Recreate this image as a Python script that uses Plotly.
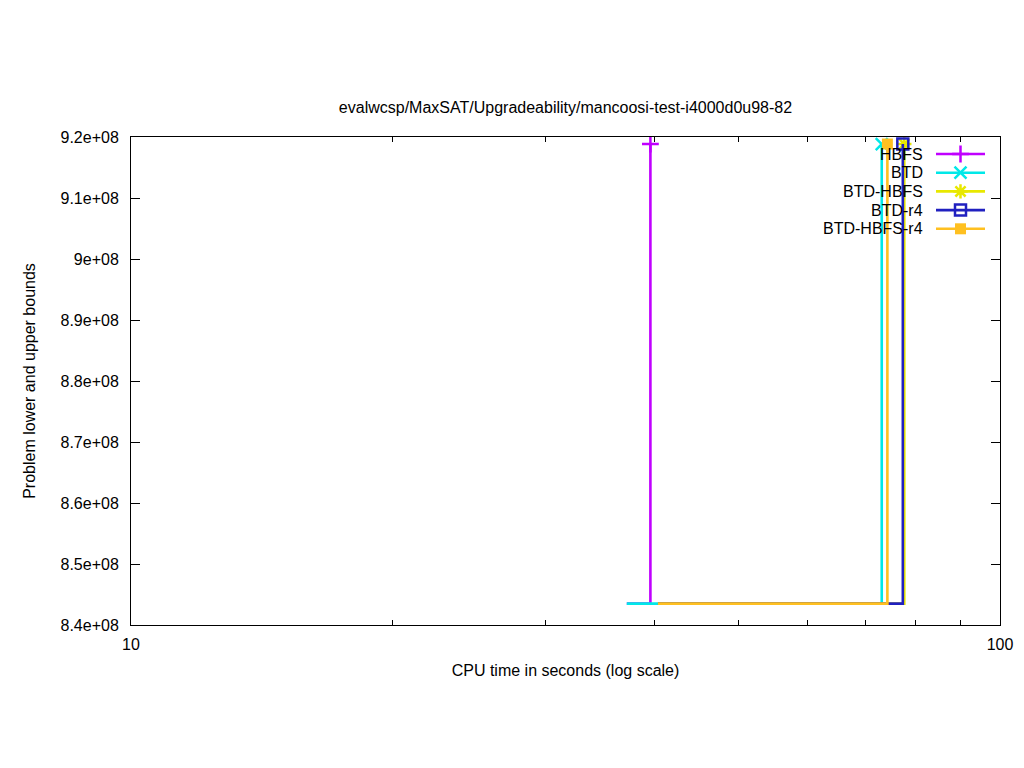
import plotly.graph_objects as go

# Data
series_names = ["HBFS", "BTD", "BTD-HBFS", "BTD-r4", "BTD-HBFS-r4"]
series_colors = ["#c000ff", "#00e8e8", "#e8e800", "#2020c0", "#ffc020"]
series_symbols = ["cross-thin", "x-thin", "asterisk", "square-open", "square"]
hbfs_x = [37.2, 39.6]
hbfs_y = [8.435e8, 9.1885e8]
btd_x = [37.2, 73.1]
btd_y = [8.435e8, 9.1885e8]
btd_hbfs_x = [40.4, 77.6]
btd_hbfs_y = [8.435e8, 9.1885e8]
btd_r4_x = [40.4, 77.3]
btd_r4_y = [8.435e8, 9.1885e8]
btd_hbfs_r4_x = [40.4, 74.2]
btd_hbfs_r4_y = [8.435e8, 9.1885e8]

xs = [hbfs_x, btd_x, btd_hbfs_x, btd_r4_x, btd_hbfs_r4_x]
ys = [hbfs_y, btd_y, btd_hbfs_y, btd_r4_y, btd_hbfs_r4_y]

y_ticks = [8.4e8, 8.5e8, 8.6e8, 8.7e8, 8.8e8, 8.9e8, 9.0e8, 9.1e8, 9.2e8]
y_tick_text = ["8.4e+08", "8.5e+08", "8.6e+08", "8.7e+08", "8.8e+08",
               "8.9e+08", "9e+08", "9.1e+08", "9.2e+08"]
x_ticks = [10, 100]
x_tick_text = ["10", "100"]
x_minor = [20, 30, 40, 50, 60, 70, 80, 90]

# Page is offset by the 8px body margin; figure is sized so plot area lands
# at page px x 131..1000, y 137..625.
W, H = 1016, 760
PL, PR, PT, PB = 131, 1000, 137, 625  # plot area in page pixels
# key (legend) layout in page pixels
KEY_TEXT_X = 925
KEY_LINE_X0, KEY_LINE_X1 = 936, 985
KEY_Y0, KEY_DY = 154, 18.7


def marker_for(sym, color, opacity):
    m = dict(symbol=sym, size=12, color=color, opacity=opacity,
             line=dict(width=2.5, color=color))
    if sym == "square-open":
        m.update(size=11, line=dict(width=2.5, color=color))
    if sym == "square":
        m.update(size=11, line=dict(width=0, color=color))
    return m


fig = go.Figure()
for i, (name, color, sym, x, y) in enumerate(zip(series_names, series_colors, series_symbols, xs, ys)):
    fig.add_trace(go.Scatter(
        x=x, y=y, name=name, mode="lines+markers", showlegend=False,
        line=dict(color=color, width=2.6, shape="hv"),
        marker=marker_for(sym, color, [0, 1]),
    ))
    ky = KEY_Y0 + i * KEY_DY
    fig.add_trace(go.Scatter(
        x=[KEY_LINE_X0, (KEY_LINE_X0 + KEY_LINE_X1) / 2, KEY_LINE_X1],
        y=[ky, ky, ky], xaxis="x2", yaxis="y2",
        mode="lines+markers", showlegend=False, hoverinfo="skip",
        line=dict(color=color, width=2.6),
        marker=marker_for(sym, color, [0, 1, 0]),
    ))
    fig.add_annotation(x=KEY_TEXT_X, y=ky, xref="x2", yref="y2", text=name,
                       showarrow=False, xanchor="right", yanchor="middle",
                       font=dict(size=16))

font = "Liberation Sans, Arial, sans-serif"
fig.update_layout(
    width=W, height=H,
    paper_bgcolor="white", plot_bgcolor="white",
    margin=dict(l=PL - 8, r=W - (PR - 8), t=PT - 8, b=H - (PB - 8)),
    font=dict(family=font, size=16, color="black"),
    title=dict(text="evalwcsp/MaxSAT/Upgradeability/mancoosi-test-i4000d0u98-82",
               x=0.5, xref="paper", xanchor="center",
               y=1 - (107 - 8) / H, yref="container", yanchor="middle",
               font=dict(size=16)),
    showlegend=False,
    xaxis=dict(type="log", range=[1, 2], tickvals=x_ticks, ticktext=x_tick_text,
               ticks="inside", ticklen=9, tickcolor="black", ticklabelstandoff=5,
               showline=True, linecolor="black", linewidth=1, mirror="allticks",
               showgrid=False, zeroline=False,
               minor=dict(ticks="inside", ticklen=5, tickcolor="black", tickvals=x_minor, showgrid=False),
               title=dict(text="CPU time in seconds (log scale)", standoff=12,
                          font=dict(size=16))),
    yaxis=dict(range=[8.4e8, 9.2e8], tickvals=y_ticks, ticktext=y_tick_text,
               ticks="inside", ticklen=9, tickcolor="black", ticklabelstandoff=8,
               showline=True, linecolor="black", linewidth=1, mirror="allticks",
               showgrid=False, zeroline=False,
               title=dict(text="Problem lower and upper bounds", standoff=20,
                          font=dict(size=16))),
    xaxis2=dict(overlaying="x", anchor="y2", range=[PL, PR], visible=False,
                fixedrange=True),
    yaxis2=dict(overlaying="y", anchor="x2", range=[PB, PT], visible=False,
                fixedrange=True),
)

fig.write_html("out.html")
